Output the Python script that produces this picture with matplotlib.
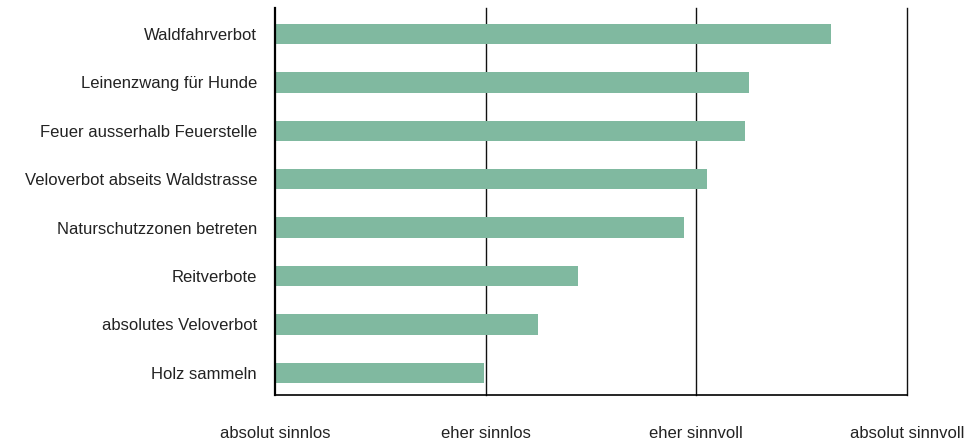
import matplotlib.pyplot as plt

# Data (scale: 1 = absolut sinnlos ... 4 = absolut sinnvoll)
items = ["Waldfahrverbot", "Leinenzwang für Hunde", "Feuer ausserhalb Feuerstelle",
         "Veloverbot abseits Waldstrasse", "Naturschutzzonen betreten",
         "Reitverbote", "absolutes Veloverbot", "Holz sammeln"]
scores = [3.64, 3.25, 3.23, 3.05, 2.94, 2.44, 2.25, 1.99]
scale_labels = ["absolut sinnlos", "eher sinnlos", "eher sinnvoll", "absolut sinnvoll"]
scale_ticks = [1, 2, 3, 4]

plt.rcParams['font.family'] = ['Liberation Sans', 'DejaVu Sans']

fig = plt.figure(figsize=(9.72, 4.48), dpi=100)
ax = fig.add_axes([275 / 972, 1 - 395 / 448, (907 - 275) / 972, (395 - 8) / 448])

ypos = list(range(len(items)))[::-1]
ax.barh(ypos, [s - 1 for s in scores], left=1, height=0.42, color='#80B9A0', zorder=2)

ax.set_xlim(1, 4)
ax.set_ylim(-0.46, 7.54)
ax.set_yticks(ypos)
ax.set_yticklabels(items, fontsize=12, color='#222222')
ax.set_xticks(scale_ticks)
ax.set_xticklabels(scale_labels, fontsize=12, color='#222222')
ax.tick_params(axis='y', length=0, pad=13)
ax.tick_params(axis='x', length=0, pad=22)

for x in scale_ticks[1:]:
    ax.axvline(x, color='#111111', lw=1, zorder=1, clip_on=False)

ax.spines['top'].set_visible(False)
ax.spines['right'].set_visible(False)
ax.spines['left'].set_linewidth(1.6)
ax.spines['bottom'].set_linewidth(1.2)
ax.spines['left'].set_zorder(3)

plt.savefig("out.png", dpi=100)
plt.close()
